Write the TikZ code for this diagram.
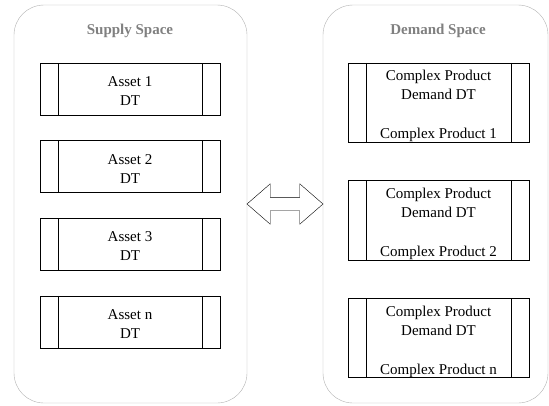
\documentclass[tikz,border=0pt]{standalone}
\usepackage{fontspec}
\setmainfont{Liberation Serif}
\usepackage{tikz}
\usetikzlibrary{arrows,positioning,shapes.arrows,calc}

\begin{document}
\begin{tikzpicture}[x=1pt,y=-1pt,node distance=25pt,semithick,font=\fontsize{15}{19}\selectfont]
\tikzstyle{space} = [rectangle,draw={rgb:black,3;white,7},thin,rounded corners=30pt]
\tikzstyle{title} = [text={rgb:black,1;white,1},font=\fontsize{15}{18}\selectfont\bfseries]
\tikzstyle{dt} = [rectangle,draw=black,align=center,inner sep=0pt,
  path picture={\draw ([xshift=18pt]path picture bounding box.north west) -- ([xshift=18pt]path picture bounding box.south west);
                \draw ([xshift=-18pt]path picture bounding box.north east) -- ([xshift=-18pt]path picture bounding box.south east);}]
\tikzstyle{asset} = [dt,minimum width=180pt,minimum height=52pt]
\tikzstyle{product} = [dt,minimum width=181pt,minimum height=79pt]
\newcommand{\topstrut}[1]{\rule{0pt}{#1}}
    \useasboundingbox (0,0) rectangle (549,405);

    % the two spaces
    \node[space,minimum width=233pt,minimum height=398pt] (supply) at (130.5,204) {};
    \node[space,minimum width=225pt,minimum height=398pt] (demand) at (435.5,204) {};
    \node[title] (supplyttl) at (130,31) {Supply Space};
    \node[title] (demandttl) at (438,31) {Demand Space};

    % supply side
    \node[asset] (asset1) at (130,89) {\topstrut{14pt}Asset 1\\DT};
    \node[asset] (asset2) [below=of asset1] {\topstrut{14pt}Asset 2\\DT};
    \node[asset] (asset3) [below=of asset2] {\topstrut{14pt}Asset 3\\DT};
    \node[asset] (assetn) [below=of asset3] {\topstrut{14pt}Asset n\\DT};

    % demand side
    \node[product] (prod1) at (438.5,102.5) {\topstrut{18pt}Complex Product\\Demand DT\\[20pt]Complex Product 1};
    \node[product] (prod2) [below=38pt of prod1] {\topstrut{18pt}Complex Product\\Demand DT\\[20pt]Complex Product 2};
    \node[product] (prodn) [below=38pt of prod2] {\topstrut{18pt}Complex Product\\Demand DT\\[20pt]Complex Product n};

    \node[double arrow,draw=black,thin,fill=white,inner xsep=0pt,inner ysep=6.5pt,minimum height=76pt,minimum width=40pt,
      double arrow head extend=13.5pt,double arrow tip angle=82] (link) at ($(supply.east)!0.5!(demand.west)$) {};
\end{tikzpicture}
\end{document}
